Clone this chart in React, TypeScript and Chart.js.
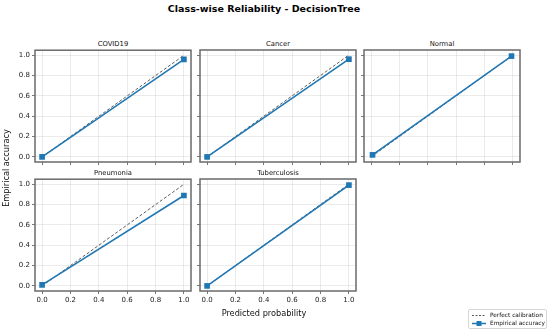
import React, { useEffect, useRef } from "react";
import { Chart, registerables } from "chart.js";

Chart.register(...registerables);

// ---------- data ----------
const CLASS_NAMES = ["COVID19", "Cancer", "Normal", "Pneumonia", "Tuberculosis"];
const COVID_X = [0.0, 1.0];
const COVID_Y = [0.0, 0.96];
const CANCER_X = [0.0, 1.0];
const CANCER_Y = [0.0, 0.96];
const NORMAL_X = [0.01, 0.99];
const NORMAL_Y = [0.02, 0.99];
const PNEUMONIA_X = [0.0, 1.0];
const PNEUMONIA_Y = [0.01, 0.89];
const TUBERCULOSIS_X = [0.0, 1.0];
const TUBERCULOSIS_Y = [0.0, 0.99];
const PERFECT_X = [0.0, 1.0];
const PERFECT_Y = [0.0, 1.0];
const TICK_VALUES = [0.0, 0.2, 0.4, 0.6, 0.8, 1.0];
const AXIS_MIN = -0.05;
const AXIS_MAX = 1.05;

const SERIES_X = [COVID_X, CANCER_X, NORMAL_X, PNEUMONIA_X, TUBERCULOSIS_X];
const SERIES_Y = [COVID_Y, CANCER_Y, NORMAL_Y, PNEUMONIA_Y, TUBERCULOSIS_Y];

// ---------- layout ----------
const FONT = "'DejaVu Sans', sans-serif";
const FRAME_W = 156;
const FRAME_H = 112;
const PANEL_POS = [
  { left: 35, top: 50, showX: false, showY: true },
  { left: 200, top: 50, showX: false, showY: false },
  { left: 364, top: 50, showX: false, showY: false },
  { left: 35, top: 179, showX: true, showY: true },
  { left: 200, top: 179, showX: true, showY: false },
];
const PAD_L = 32;
const PAD_T = 6;
const PAD_R = 8;
const PAD_B = 20;
const BLUE = "#1f77b4";

const framePlugin = {
  id: "frameBox",
  afterDatasetsDraw(chart: any) {
    const { ctx, chartArea: a } = chart;
    ctx.save();
    ctx.strokeStyle = "#6a6a6a";
    ctx.lineWidth = 1.5;
    ctx.strokeRect(a.left, a.top, a.right - a.left, a.bottom - a.top);
    ctx.restore();
  },
};

function Panel({ idx }: { idx: number }) {
  const ref = useRef<HTMLCanvasElement | null>(null);
  const pos = PANEL_POS[idx];
  const W = FRAME_W + PAD_L + PAD_R;
  const H = FRAME_H + PAD_T + PAD_B;

  useEffect(() => {
    if (!ref.current) return;
    const xs = SERIES_X[idx];
    const ys = SERIES_Y[idx];
    const axisCommon = (show: boolean, isX: boolean) => ({
      type: "linear",
      min: AXIS_MIN,
      max: AXIS_MAX,
      afterBuildTicks: (s: any) => {
        s.ticks = TICK_VALUES.map((v) => ({ value: v }));
      },
      afterFit: (s: any) => {
        if (isX) s.height = PAD_B;
        else s.width = PAD_L;
      },
      ticks: {
        display: show,
        font: { family: FONT, size: 7 },
        color: "#222",
        padding: 2,
        autoSkip: false,
        maxRotation: 0,
        callback: (v: any) => Number(v).toFixed(1),
      },
      grid: {
        color: "rgba(0,0,0,0.1)",
        lineWidth: 0.8,
        tickColor: "#555",
        tickLength: 3,
        drawTicks: true,
      },
      border: { display: false },
    });
    const chart = new Chart(ref.current, {
      type: "scatter",
      data: {
        datasets: [
          {
            label: "Empirical accuracy",
            data: xs.map((x, i) => ({ x, y: ys[i] })),
            showLine: true,
            borderColor: BLUE,
            backgroundColor: BLUE,
            borderWidth: 1.6,
            pointStyle: "rect",
            pointRadius: 4,
            pointBorderWidth: 0,
            order: 0,
          },
          {
            label: "Perfect calibration",
            data: PERFECT_X.map((x, i) => ({ x, y: PERFECT_Y[i] })),
            showLine: true,
            borderColor: "#333",
            borderWidth: 0.8,
            borderDash: [3, 2],
            pointRadius: 0,
            order: 1,
          },
        ],
      },
      options: {
        responsive: false,
        maintainAspectRatio: false,
        animation: false,
        devicePixelRatio: 1,
        layout: { padding: { left: 0, top: PAD_T, right: PAD_R, bottom: 0 } },
        plugins: { legend: { display: false }, tooltip: { enabled: false } },
        scales: {
          x: axisCommon(pos.showX, true) as any,
          y: axisCommon(pos.showY, false) as any,
        },
      },
      plugins: [framePlugin],
    } as any);
    return () => chart.destroy();
  }, [idx]);

  return (
    <>
      <div
        style={{
          position: "absolute",
          left: pos.left,
          top: pos.top - 11,
          width: FRAME_W,
          height: 10,
          lineHeight: "10px",
          textAlign: "center",
          fontFamily: FONT,
          fontSize: 6.8,
          color: "#111",
        }}
      >
        {CLASS_NAMES[idx]}
      </div>
      <canvas
        ref={ref}
        width={W}
        height={H}
        style={{
          position: "absolute",
          left: pos.left - PAD_L,
          top: pos.top - PAD_T,
          width: W,
          height: H,
        }}
      />
    </>
  );
}

export default function App() {
  return (
    <div
      style={{
        position: "absolute",
        left: 0,
        top: 0,
        width: 550,
        height: 332,
        background: "#fff",
        overflow: "hidden",
        fontFamily: FONT,
      }}
    >
      <div
        style={{
          position: "absolute",
          left: 0,
          top: 3,
          width: 528,
          textAlign: "center",
          fontWeight: "bold",
          fontSize: 9.5,
          lineHeight: "12px",
          color: "#000",
        }}
      >
        Class-wise Reliability - DecisionTree
      </div>
      {CLASS_NAMES.map((_, i) => (
        <Panel key={i} idx={i} />
      ))}
      <div
        style={{
          position: "absolute",
          left: 164,
          top: 307,
          width: 200,
          textAlign: "center",
          fontSize: 8.2,
          lineHeight: "12px",
          color: "#111",
        }}
      >
        Predicted probability
      </div>
      <div
        style={{
          position: "absolute",
          left: 6 - 60,
          top: 168 - 6,
          width: 120,
          height: 12,
          lineHeight: "12px",
          textAlign: "center",
          fontSize: 8.2,
          color: "#111",
          transform: "rotate(-90deg)",
        }}
      >
        Empirical accuracy
      </div>
      <div
        style={{
          position: "absolute",
          left: 468,
          top: 309,
          width: 79,
          height: 20,
          border: "1px solid #d6d6d6",
          borderRadius: 2,
          background: "#fff",
          boxSizing: "border-box",
          fontSize: 5.8,
          color: "#111",
        }}
      >
        <div style={{ position: "absolute", left: 3, top: 1.5, height: 7, display: "flex", alignItems: "center", whiteSpace: "nowrap" }}>
          <svg width={14} height={7} style={{ display: "block" }}>
            <line x1={0} y1={3.5} x2={14} y2={3.5} stroke="#333" strokeWidth={0.8} strokeDasharray="2,1.5" />
          </svg>
          <span style={{ marginLeft: 4, lineHeight: "7px" }}>Perfect calibration</span>
        </div>
        <div style={{ position: "absolute", left: 3, top: 9.5, height: 7, display: "flex", alignItems: "center", whiteSpace: "nowrap" }}>
          <svg width={14} height={7} style={{ display: "block" }}>
            <line x1={0} y1={3.5} x2={14} y2={3.5} stroke={BLUE} strokeWidth={1.5} />
            <rect x={4.5} y={1} width={5} height={5} fill={BLUE} />
          </svg>
          <span style={{ marginLeft: 4, lineHeight: "7px" }}>Empirical accuracy</span>
        </div>
      </div>
    </div>
  );
}
